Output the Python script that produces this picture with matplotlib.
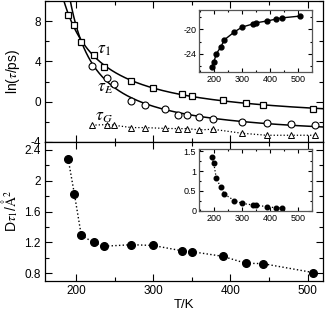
import numpy as np
import matplotlib
matplotlib.use("Agg")
import matplotlib.pyplot as plt
from matplotlib.ticker import MultipleLocator

plt.rcParams['font.family'] = ['Liberation Sans', 'DejaVu Sans']
plt.rcParams['mathtext.fontset'] = 'stix'
plt.rcParams['axes.unicode_minus'] = False

# ---- data ----
T1 = [190, 198, 207, 223, 236, 272, 300, 338, 350, 390, 420, 442, 507]
ln_tau1 = [8.63, 7.6, 5.93, 4.67, 3.43, 2.1, 1.4, 0.77, 0.6, 0.17, -0.17, -0.33, -0.77]

TE = [221, 240, 249, 272, 290, 315, 332, 344, 360, 377, 415, 447, 478, 509]
ln_tauE = [3.57, 2.4, 1.8, 0.07, -0.33, -0.7, -1.3, -1.35, -1.5, -1.7, -2.0, -2.13, -2.23, -2.27]
ln_tauG = [-2.33, -2.27, -2.33, -2.57, -2.57, -2.65, -2.67, -2.67, -2.8, -2.73, -3.13, -3.33, -3.33, -3.33]

inset1_vals = [-26.2, -25.4, -24.0, -22.9, -21.7, -20.4, -19.6, -19.1, -18.9, -18.6, -18.3, -18.1, -17.8]

D_tau1 = [2.28, 1.83, 1.29, 1.20, 1.15, 1.17, 1.16, 1.09, 1.08, 1.02, 0.93, 0.925, 0.81]
T2 = [190, 198, 207, 223, 236, 272, 300, 338, 350, 390, 420, 442]
inset2_vals = [1.34, 1.19, 0.82, 0.59, 0.42, 0.26, 0.19, 0.15, 0.14, 0.11, 0.08, 0.075]


def vft_fit(T, y):
    T = np.asarray(T, float); y = np.asarray(y, float)
    best = None
    for T0 in np.linspace(0, min(T) - 2, 400):
        X = np.column_stack([np.ones_like(T), 1.0 / (T - T0)])
        coef, *_ = np.linalg.lstsq(X, y, rcond=None)
        r = np.sum((X @ coef - y) ** 2)
        if best is None or r < best[0]:
            best = (r, T0, coef)
    _, T0, (A, B) = best
    return lambda t: A + B / (t - T0), T0


fig = plt.figure(figsize=(3.27, 3.10), dpi=100)
W, H = 327.0, 310.0
ax1 = fig.add_axes([45 / W, 1 - 142 / H, 278 / W, 141 / H])
ax2 = fig.add_axes([45 / W, 1 - 281 / H, 278 / W, 139 / H])


def style(ax, size=8.5, major=5, minor=3, pad=3):
    ax.tick_params(which='both', direction='in', top=True, right=True, labelsize=size, width=0.8, pad=pad)
    ax.tick_params(which='major', length=major)
    ax.tick_params(which='minor', length=minor)
    for s in ax.spines.values():
        s.set_linewidth(0.9)


# top panel
f1, T01 = vft_fit(T1, ln_tau1)
fE, T0E = vft_fit(TE, ln_tauE)
tt1 = np.linspace(T01 + 3, 520, 600)
ttE = np.linspace(T0E + 3, 520, 600)
ax1.plot(tt1, f1(tt1), 'k-', lw=1.1)
ax1.plot(ttE, fE(ttE), 'k-', lw=1.1)
ax1.plot(T1, ln_tau1, 's', mfc='white', mec='black', ms=4.8, mew=0.9)
ax1.plot(TE, ln_tauE, 'o', mfc='white', mec='black', ms=5, mew=0.8)
ax1.plot(TE, ln_tauG, '^', ls=':', color='black', mfc='white', mec='black', ms=4.5, mew=0.7, lw=0.9)
ax1.set_xlim(160, 520)
ax1.set_ylim(-4, 10)
ax1.xaxis.set_major_locator(MultipleLocator(100))
ax1.xaxis.set_minor_locator(MultipleLocator(50))
ax1.yaxis.set_major_locator(MultipleLocator(4))
ax1.yaxis.set_minor_locator(MultipleLocator(2))
ax1.set_xticklabels([])
style(ax1)
ax1.set_ylabel(r'ln($\tau$/ps)', fontsize=10, labelpad=6)
ax1.text(227, 5.1, r'$\tau_1$', fontsize=12.5, ha='left', va='center')
ax1.text(227, 1.3, r'$\tau_E$', fontsize=12.5, ha='left', va='center')
ax1.text(225, -1.6, r'$\tau_G$', fontsize=12.5, ha='left', va='center')

# bottom panel
ax2.plot(T1, D_tau1, 'o', ls=':', color='black', ms=5.5, lw=1.0)
ax2.set_xlim(160, 520)
ax2.set_ylim(0.7, 2.5)
ax2.xaxis.set_major_locator(MultipleLocator(100))
ax2.xaxis.set_minor_locator(MultipleLocator(50))
ax2.yaxis.set_minor_locator(MultipleLocator(0.2))
ax2.set_yticks([0.8, 1.2, 1.6, 2.0, 2.4])
ax2.set_yticklabels(['0.8', '1.2', '1.6', '2', '2.4'])
style(ax2)
ax2.set_xlabel('T/K', fontsize=9.5, labelpad=1)
ax2.set_ylabel(r'D$\tau_1$/$\mathrm{\AA}^2$', fontsize=10, labelpad=3)

# inset top
in1 = fig.add_axes([199 / W, 1 - 72 / H, 113 / W, 62 / H])
in1.plot(T1, inset1_vals, 'o-', color='black', ms=3.5, lw=1.0)
in1.set_xlim(145, 550)
in1.set_ylim(-27, -16.8)
in1.xaxis.set_major_locator(MultipleLocator(100))
in1.xaxis.set_minor_locator(MultipleLocator(50))
in1.yaxis.set_major_locator(MultipleLocator(4))
in1.yaxis.set_minor_locator(MultipleLocator(2))
style(in1, size=6.5, major=3, minor=1.5, pad=2)
for s in in1.spines.values():
    s.set_color('#555555')

# inset bottom
in2 = fig.add_axes([199 / W, 1 - 211 / H, 113 / W, 62 / H])
in2.plot(T2, inset2_vals, 'o', ls=':', color='black', ms=3.3, lw=0.9)
in2.set_xlim(145, 550)
in2.set_ylim(0, 1.55)
in2.xaxis.set_major_locator(MultipleLocator(100))
in2.xaxis.set_minor_locator(MultipleLocator(50))
in2.set_yticks([0, 0.5, 1, 1.5])
in2.set_yticklabels(['0', '0.5', '1', '1.5'])
in2.yaxis.set_minor_locator(MultipleLocator(0.25))
style(in2, size=6.5, major=3, minor=1.5, pad=2)
for s in in2.spines.values():
    s.set_color('#555555')

fig.savefig('out.png', dpi=100)
